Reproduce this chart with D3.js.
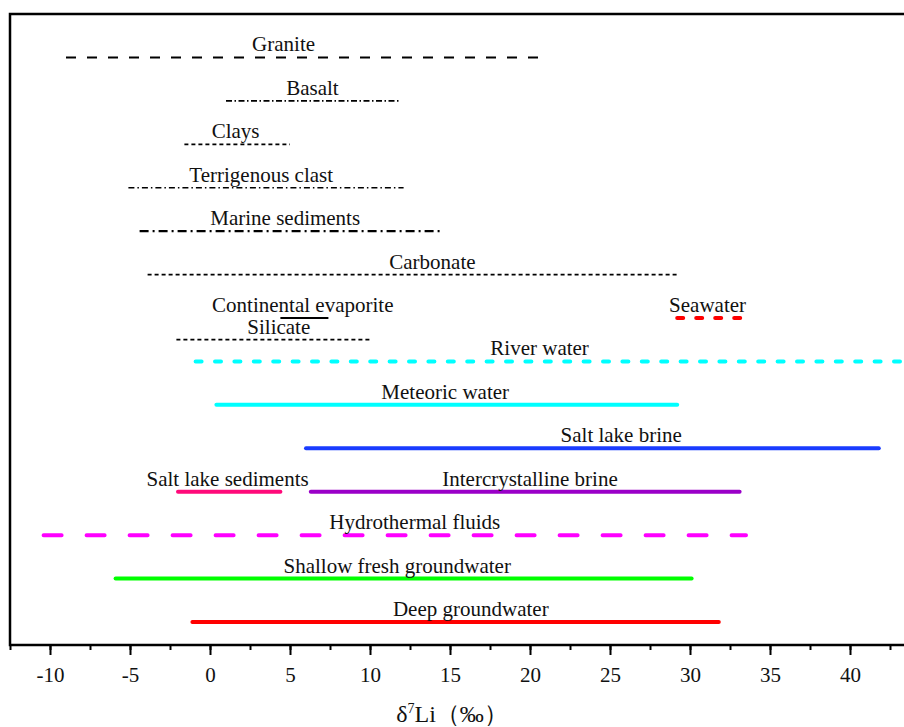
<!DOCTYPE html>
<html>
<head>
<meta charset="utf-8">
<script src="https://cdn.jsdelivr.net/npm/d3@7"></script>
<style>
  body { margin: 0; background: #fff; }
  text { font-family: "Liberation Serif", "Times New Roman", serif; fill: #111; }
</style>
</head>
<body>
<div id="chart"></div>
<script>
// ranges of d7Li (permil) for each reservoir
var names = ["Granite", "Basalt", "Clays", "Terrigenous clast", "Marine sediments", "Carbonate",
             "Continental evaporite", "Seawater", "Silicate", "River water", "Meteoric water",
             "Salt lake brine", "Salt lake sediments", "Intercrystalline brine", "Hydrothermal fluids",
             "Shallow fresh groundwater", "Deep groundwater"];
var lows  = [-9, 1, -1.6, -5.1, -4.4, -3.9, 4.4, 29.2, -2.1, -0.9, 0.4, 6, -2, 6.3, -10.4, -5.9, -1.1];
var highs = [21, 11.8, 5, 12.1, 14.6, 29.2, 7.4, 33.4, 10.1, 44, 29.2, 41.8, 4.4, 33.1, 33.5, 30.1, 31.8];
var rows  = [15, 14, 13, 12, 11, 10, 9, 9, 8.5, 8, 7, 6, 5, 5, 4, 3, 2];
var labelAt = [4.6, 6.4, 1.6, 3.2, 4.7, 13.9, 5.8, 31.1, 4.3, 20.6, 14.7, 25.7, 1.1, 20, 12.8, 11.7, 16.3];
var tickVals = [-10, -5, 0, 5, 10, 15, 20, 25, 30, 35, 40];

function init() {
    var W = 904, H = 727;
    var left = 10, top = 14, w = 896, h = 631;

    // line look for each row
    var styles = [
        {c: "#000", sw: 2,   dash: "10,11", cap: "butt"},
        {c: "#000", sw: 1.6, dash: "6,2.5,1.5,2.5", cap: "butt"},
        {c: "#000", sw: 1.8, dash: "4,3", cap: "butt"},
        {c: "#000", sw: 1.6, dash: "6,3,1.5,3", cap: "butt"},
        {c: "#000", sw: 2.2, dash: "9,4,2,4", cap: "butt"},
        {c: "#000", sw: 1.8, dash: "4,3", cap: "butt"},
        {c: "#000", sw: 2,   dash: null, cap: "butt"},
        {c: "#ff0000", sw: 4, dash: "6,13", cap: "round"},
        {c: "#000", sw: 1.8, dash: "4,3", cap: "butt"},
        {c: "#00ffff", sw: 4, dash: "6,13.4", cap: "round"},
        {c: "#00ffff", sw: 4, dash: null, cap: "round"},
        {c: "#1a3cff", sw: 4, dash: null, cap: "round"},
        {c: "#ff0a7a", sw: 4, dash: null, cap: "round"},
        {c: "#9a00c8", sw: 4, dash: null, cap: "round"},
        {c: "#ff00ff", sw: 4, dash: "18,25", cap: "round"},
        {c: "#00ff00", sw: 4, dash: null, cap: "round"},
        {c: "#ff0000", sw: 4, dash: null, cap: "round"}
    ];

    var x = d3.scaleLinear().domain([-12.5, 43.5]).range([left, left + w]);
    var y = d3.scaleLinear().domain([1.47, 16]).range([top + h, top]);

    var svg = d3.select("#chart").append("svg")
                .attr("width", W).attr("height", H);

    var data = names.map(function(n, i) {
        return {name: n, lo: lows[i], hi: highs[i], row: rows[i], lx: labelAt[i], s: styles[i]};
    });

    svg.selectAll("line.range")
       .data(data)
       .enter()
       .append("line")
       .attr("class", "range")
       .attr("x1", function(d) { return x(d.lo); })
       .attr("x2", function(d) { return x(d.hi); })
       .attr("y1", function(d) { return y(d.row); })
       .attr("y2", function(d) { return y(d.row); })
       .attr("stroke", function(d) { return d.s.c; })
       .attr("stroke-width", function(d) { return d.s.sw; })
       .attr("stroke-linecap", function(d) { return d.s.cap; })
       .attr("stroke-dasharray", function(d) { return d.s.dash; });

    svg.selectAll("text.lab")
       .data(data)
       .enter()
       .append("text")
       .attr("class", "lab")
       .attr("x", function(d) { return x(d.lx); })
       .attr("y", function(d) { return y(d.row) - 6; })
       .attr("text-anchor", "middle")
       .attr("font-size", 21)
       .text(function(d) { return d.name; });

    // x axis with major + minor ticks
    var axis = svg.append("g").attr("transform", "translate(0," + (top + h) + ")");
    axis.call(d3.axisBottom(x).tickValues(d3.range(-12.5, 43.6, 2.5)).tickSize(5).tickFormat(""))
        .call(function(g) { g.select(".domain").remove(); });
    axis.selectAll("line").attr("stroke", "#000").attr("stroke-width", 2);

    var major = svg.append("g").attr("transform", "translate(0," + (top + h) + ")");
    major.call(d3.axisBottom(x).tickValues(tickVals).tickSize(10).tickPadding(12)
                 .tickFormat(function(d) { return d; }));
    major.select(".domain").remove();
    major.selectAll("line").attr("stroke", "#000").attr("stroke-width", 2);
    major.selectAll("text")
         .attr("font-size", 21)
         .attr("font-family", "Liberation Serif, serif")
         .attr("fill", "#111");

    // frame
    svg.append("path")
       .attr("d", "M" + (left + w) + "," + top + "H" + left + "V" + (top + h) + "H" + (left + w))
       .attr("fill", "none")
       .attr("stroke", "#000")
       .attr("stroke-width", 2.5);

    var title = svg.append("text")
                   .attr("x", 452)
                   .attr("y", 722)
                   .attr("text-anchor", "middle")
                   .attr("font-size", 24);
    title.append("tspan").text("δ");
    title.append("tspan").attr("dy", -9).attr("font-size", 14).text("7");
    title.append("tspan").attr("dy", 9).text("Li（‰）");
}

window.onload = init;
</script>
</body>
</html>
